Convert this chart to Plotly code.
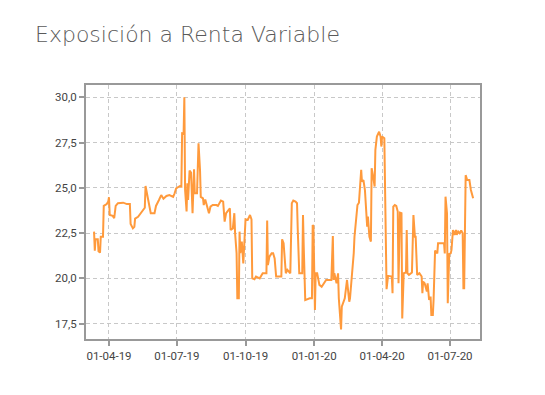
import plotly.graph_objects as go

dates = [
    "2019-03-12", "2019-03-13", "2019-03-14", "2019-03-17", "2019-03-18", "2019-03-20", "2019-03-21", "2019-03-24",
    "2019-03-25", "2019-03-29", "2019-03-31", "2019-04-01", "2019-04-02", "2019-04-06", "2019-04-08", "2019-04-10",
    "2019-04-13", "2019-04-20", "2019-04-25", "2019-04-29", "2019-04-30", "2019-05-03", "2019-05-05", "2019-05-06",
    "2019-05-10", "2019-05-12", "2019-05-14", "2019-05-17", "2019-05-19", "2019-05-20", "2019-05-22", "2019-05-23",
    "2019-05-25", "2019-05-27", "2019-06-01", "2019-06-03", "2019-06-07", "2019-06-10", "2019-06-13", "2019-06-17",
    "2019-06-21", "2019-06-26", "2019-06-28", "2019-06-30", "2019-07-05", "2019-07-07", "2019-07-08", "2019-07-10",
    "2019-07-11", "2019-07-12", "2019-07-14", "2019-07-15", "2019-07-16", "2019-07-18", "2019-07-20", "2019-07-22",
    "2019-07-24", "2019-07-25", "2019-07-28", "2019-07-30", "2019-08-01", "2019-08-02", "2019-08-05", "2019-08-06",
    "2019-08-08", "2019-08-10", "2019-08-13", "2019-08-15", "2019-08-18", "2019-08-23", "2019-08-25", "2019-08-29",
    "2019-09-01", "2019-09-03", "2019-09-05", "2019-09-10", "2019-09-11", "2019-09-14", "2019-09-16", "2019-09-17",
    "2019-09-19", "2019-09-20", "2019-09-22", "2019-09-23", "2019-09-24", "2019-09-26", "2019-09-28", "2019-10-01",
    "2019-10-04", "2019-10-07", "2019-10-09", "2019-10-10", "2019-10-13", "2019-10-15", "2019-10-20", "2019-10-24",
    "2019-10-29", "2019-10-30", "2019-10-31", "2019-11-02", "2019-11-05", "2019-11-07", "2019-11-09", "2019-11-11",
    "2019-11-18", "2019-11-19", "2019-11-21", "2019-11-22", "2019-11-24", "2019-11-26", "2019-11-30", "2019-12-02",
    "2019-12-04", "2019-12-07", "2019-12-09", "2019-12-10", "2019-12-12", "2019-12-16", "2019-12-17", "2019-12-18",
    "2019-12-20", "2019-12-26", "2019-12-29", "2019-12-30", "2019-12-31", "2020-01-02", "2020-01-03", "2020-01-05",
    "2020-01-07", "2020-01-08", "2020-01-11", "2020-01-15", "2020-01-17", "2020-01-24", "2020-01-26", "2020-01-27",
    "2020-01-28", "2020-01-31", "2020-02-02", "2020-02-03", "2020-02-06", "2020-02-07", "2020-02-09", "2020-02-11",
    "2020-02-14", "2020-02-15", "2020-02-17", "2020-02-18", "2020-02-20", "2020-02-21", "2020-02-23", "2020-02-24",
    "2020-02-26", "2020-02-28", "2020-03-01", "2020-03-03", "2020-03-04", "2020-03-05", "2020-03-07", "2020-03-09",
    "2020-03-10", "2020-03-12", "2020-03-13", "2020-03-15", "2020-03-17", "2020-03-18", "2020-03-20", "2020-03-22",
    "2020-03-23", "2020-03-25", "2020-03-28", "2020-03-30", "2020-03-31", "2020-04-01", "2020-04-04", "2020-04-06",
    "2020-04-07", "2020-04-09", "2020-04-14", "2020-04-15", "2020-04-16", "2020-04-18", "2020-04-20", "2020-04-22",
    "2020-04-23", "2020-04-25", "2020-04-27", "2020-04-28", "2020-04-30", "2020-05-03", "2020-05-04", "2020-05-05",
    "2020-05-07", "2020-05-11", "2020-05-13", "2020-05-15", "2020-05-16", "2020-05-18", "2020-05-21", "2020-05-24",
    "2020-05-25", "2020-05-26", "2020-05-28", "2020-05-31", "2020-06-01", "2020-06-03", "2020-06-05", "2020-06-06",
    "2020-06-08", "2020-06-09", "2020-06-10", "2020-06-11", "2020-06-14", "2020-06-15", "2020-06-23", "2020-06-24",
    "2020-06-25", "2020-06-27", "2020-06-28", "2020-06-30", "2020-07-02", "2020-07-03", "2020-07-05", "2020-07-07",
    "2020-07-09", "2020-07-10", "2020-07-12", "2020-07-14", "2020-07-16", "2020-07-18", "2020-07-19", "2020-07-20",
    "2020-07-22", "2020-07-24", "2020-07-27", "2020-07-29", "2020-08-01",
]

values = [
    22.58, 21.53, 22.16, 22.16, 21.50, 21.42, 22.30, 22.30,
    24.00, 24.10, 24.24, 24.48, 23.50, 23.45, 23.32, 24.00,
    24.15, 24.18, 24.10, 24.10, 23.00, 22.76, 22.85, 23.30,
    23.40, 23.50, 23.60, 23.80, 23.90, 25.10, 24.70, 24.50,
    23.90, 23.60, 23.60, 24.00, 24.33, 24.60, 24.40, 24.55,
    24.60, 24.50, 24.70, 24.97, 25.10, 25.07, 28.00, 27.97,
    30.00, 24.88, 23.70, 25.25, 24.33, 25.95, 25.84, 23.60,
    26.02, 24.70, 24.70, 27.46, 25.99, 24.50, 24.42, 24.05,
    24.36, 24.00, 23.60, 23.96, 24.05, 24.05, 24.00, 24.30,
    24.24, 23.13, 23.60, 23.87, 22.67, 22.76, 23.60, 22.50,
    21.39, 18.90, 18.90, 22.58, 21.39, 22.03, 20.83, 23.26,
    23.23, 23.50, 23.26, 20.00, 19.95, 20.10, 20.00, 20.28,
    20.28, 23.19, 20.74, 21.20, 21.38, 21.38, 21.10, 20.10,
    20.10, 22.16, 21.94, 21.38, 20.28, 20.47, 20.28, 24.15,
    24.30, 24.24, 24.15, 22.67, 20.28, 20.28, 23.50, 21.75,
    18.80, 18.90, 18.90, 22.95, 22.86, 18.25, 20.28, 20.28,
    19.91, 19.64, 19.54, 19.82, 19.91, 19.91, 22.34, 19.91,
    20.28, 19.73, 20.28, 18.90, 17.18, 18.44, 18.62, 18.90,
    19.91, 19.54, 18.71, 18.90, 19.91, 20.28, 21.38, 22.30,
    23.22, 24.05, 24.18, 25.43, 25.99, 25.34, 25.43, 24.88,
    23.96, 22.86, 23.41, 22.30, 22.03, 26.08, 25.62, 25.07,
    27.09, 27.83, 28.10, 27.83, 27.28, 27.83, 27.74, 20.10,
    19.40, 20.14, 20.10, 19.18, 23.96, 24.05, 24.00, 23.69,
    19.73, 23.63, 23.60, 17.78, 20.28, 20.32, 22.67, 20.28,
    20.19, 20.32, 23.50, 22.30, 22.30, 20.19, 20.28, 20.10,
    19.18, 19.82, 19.73, 19.27, 19.73, 18.81, 18.99, 17.98,
    17.98, 18.81, 19.91, 21.53, 21.38, 21.94, 21.94, 21.38,
    24.51, 23.60, 18.62, 21.35, 21.38, 21.57, 22.67, 22.40,
    22.67, 22.40, 22.58, 22.49, 22.64, 22.49, 19.45, 19.45,
    25.70, 25.43, 25.43, 24.88, 24.42,
]

y_ticks = [17.5, 20.0, 22.5, 25.0, 27.5, 30.0]
x_ticks = ["2019-04-01", "2019-07-01", "2019-10-01", "2020-01-01", "2020-04-01", "2020-07-01"]
x_labels = ["01-04-19", "01-07-19", "01-10-19", "01-01-20", "01-04-20", "01-07-20"]

fig = go.Figure()
fig.add_trace(go.Scatter(
    x=dates, y=values, mode="lines",
    line=dict(color="#FF9A3C", width=2),
    showlegend=False,
))

axis_font = dict(family="Roboto, DejaVu Sans", size=11.5, color="#444444")

W, H = 537, 387

fig.update_layout(
    width=W, height=H,
    margin=dict(l=78, r=65, t=77, b=56),
    paper_bgcolor="white", plot_bgcolor="white",
    separators=",.",
    title=dict(
        text="Exposición a Renta Variable",
        x=27 / W, xref="container", xanchor="left",
        y=1 - 26 / H, yref="container", yanchor="middle",
        font=dict(family="DejaVu Sans", size=22, color="#5a5a5a", weight=200),
        pad=dict(l=0, t=0, b=0, r=0),
    ),
    xaxis=dict(
        type="date",
        range=["2019-03-01 05:00", "2020-08-10 05:00"],
        tickvals=x_ticks, ticktext=x_labels,
        showgrid=True, gridcolor="#c8c8c8", griddash="4px,3px", gridwidth=1,
        showline=True, linecolor="#999999", linewidth=2, mirror=True,
        ticks="outside", ticklen=5, tickcolor="#999999", tickwidth=2,
        tickfont=axis_font, zeroline=False,
    ),
    yaxis=dict(
        range=[16.65, 30.68],
        tickvals=y_ticks, tickformat=".1f",
        showgrid=True, gridcolor="#c8c8c8", griddash="4px,3px", gridwidth=1,
        showline=True, linecolor="#999999", linewidth=2, mirror=True,
        ticks="outside", ticklen=5, tickcolor="#999999", tickwidth=2,
        tickfont=axis_font, zeroline=False,
    ),
)

fig.write_html("out.html")
